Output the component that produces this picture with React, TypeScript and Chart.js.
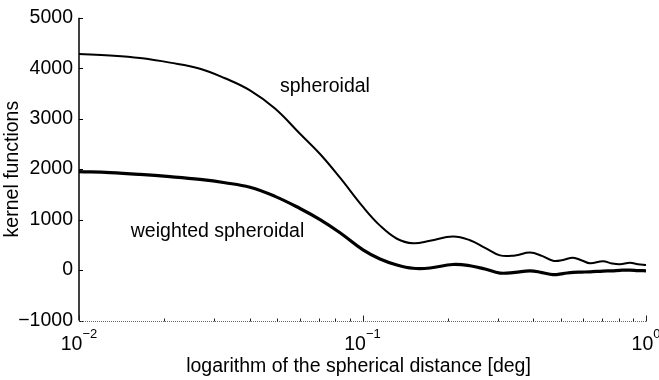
import React, { useEffect, useRef } from "react";
import { Chart, registerables } from "chart.js";

Chart.register(...registerables);

// spherical distance [deg]
const distanceDeg = [
  0.01, 0.01286, 0.01641, 0.02094, 0.02672, 0.03273, 0.0401, 0.04913, 0.06019,
  0.07083, 0.08331, 0.1004, 0.1153, 0.1323, 0.1507, 0.173, 0.2085, 0.2394,
  0.2705, 0.3055, 0.3451, 0.3898, 0.4297, 0.4699, 0.5096, 0.5527, 0.5944,
  0.6345, 0.7054, 0.7587, 0.8097, 0.8781, 0.9371, 1.0,
];
const spheroidal = [
  4280, 4250, 4200, 4110, 3990, 3800, 3560, 3200, 2700,
  2300, 1830, 1250, 880, 620, 530, 580, 665, 590,
  440, 290, 290, 345, 280, 185, 200, 245, 190,
  135, 175, 130, 115, 145, 115, 100,
];
const weightedSpheroidal = [
  1950, 1930, 1895, 1850, 1795, 1730, 1640, 1460, 1220,
  1000, 740, 400, 220, 100, 35, 40, 110, 85,
  20, -60, -45, -15, -50, -90, -70, -45, -40,
  -35, -20, -15, -5, 0, -10, -15,
];
const yTicks = [-1000, 0, 1000, 2000, 3000, 4000, 5000];
const xTickExponents = [-2, -1, 0];
const xAxisTitle = "logarithm of the spherical distance [deg]";
const yAxisTitle = "kernel functions";
const labelSpheroidal = "spheroidal";
const labelWeighted = "weighted spheroidal";
// where the curve labels sit, in data coordinates [deg, value]
const labelSpheroidalAt = [0.0737, 3640];
const labelWeightedAt = [0.0308, 770];

const FONT = "'Liberation Sans', Arial, Helvetica, sans-serif";

export default function App() {
  const ref = useRef<HTMLCanvasElement>(null);

  useEffect(() => {
    document.body.style.margin = "0";
    const canvas = ref.current;
    if (!canvas) return;

    const axesPlugin = {
      id: "matlabAxes",
      afterDraw(chart: any) {
        const { ctx, chartArea: a, scales } = chart;
        const xs = scales.x;
        const ys = scales.y;
        ctx.save();

        // left axis
        ctx.strokeStyle = "#000";
        ctx.lineWidth = 1.5;
        ctx.beginPath();
        ctx.moveTo(a.left, a.top);
        ctx.lineTo(a.left, a.bottom);
        ctx.stroke();

        // y ticks (inward)
        ctx.lineWidth = 1;
        for (const v of yTicks) {
          const py = Math.round(ys.getPixelForValue(v)) + 0.5;
          ctx.beginPath();
          ctx.moveTo(a.left, py);
          ctx.lineTo(a.left + 4, py);
          ctx.stroke();
        }

        // bottom axis (dotted)
        const by = Math.round(a.bottom) + 0.5;
        ctx.strokeStyle = "#666";
        ctx.setLineDash([1, 1]);
        ctx.beginPath();
        ctx.moveTo(a.left, by);
        ctx.lineTo(a.right, by);
        ctx.stroke();
        ctx.setLineDash([]);

        // x ticks (inward), minor and major
        ctx.strokeStyle = "#222";
        for (let e = -2; e <= 0; e++) {
          for (let m = 1; m <= 9; m++) {
            const v = m * Math.pow(10, e);
            if (v > 1.0001) break;
            const px = Math.round(xs.getPixelForValue(v)) + 0.5;
            const len = m === 1 ? 6 : 3;
            ctx.beginPath();
            ctx.moveTo(px, by);
            ctx.lineTo(px, by - len);
            ctx.stroke();
          }
        }

        // x tick labels 10^e
        ctx.fillStyle = "#000";
        ctx.textBaseline = "alphabetic";
        ctx.textAlign = "left";
        for (const e of xTickExponents) {
          const px = xs.getPixelForValue(Math.pow(10, e));
          ctx.font = `19.5px ${FONT}`;
          const wBase = ctx.measureText("10").width;
          const expText = e < 0 ? "\u2212" + Math.abs(e) : String(e);
          ctx.font = `13px ${FONT}`;
          const wExp = ctx.measureText(expText).width;
          const start = px - (wBase + wExp) / 2;
          ctx.font = `19.5px ${FONT}`;
          ctx.fillText("10", start, 350);
          ctx.font = `13px ${FONT}`;
          ctx.fillText(expText, start + wBase, 338);
        }

        // axis titles
        ctx.font = `19.5px ${FONT}`;
        ctx.textAlign = "center";
        ctx.textBaseline = "middle";
        ctx.fillText(xAxisTitle, (a.left + a.right) / 2 - 4, 367);
        ctx.save();
        ctx.translate(13, (a.top + a.bottom) / 2);
        ctx.rotate(-Math.PI / 2);
        ctx.fillText(yAxisTitle, 0, 0);
        ctx.restore();

        // curve labels
        ctx.fillText(
          labelSpheroidal,
          xs.getPixelForValue(labelSpheroidalAt[0]),
          ys.getPixelForValue(labelSpheroidalAt[1])
        );
        ctx.fillText(
          labelWeighted,
          xs.getPixelForValue(labelWeightedAt[0]),
          ys.getPixelForValue(labelWeightedAt[1])
        );

        ctx.restore();
      },
    };

    const chart = new Chart(canvas, {
      type: "line",
      data: {
        datasets: [
          {
            label: labelSpheroidal,
            data: distanceDeg.map((x, i) => ({ x, y: spheroidal[i] })),
            borderColor: "#000",
            borderWidth: 2,
            pointRadius: 0,
            tension: 0.4,
            fill: false,
          },
          {
            label: labelWeighted,
            data: distanceDeg.map((x, i) => ({ x, y: weightedSpheroidal[i] })),
            borderColor: "#000",
            borderWidth: 3.2,
            pointRadius: 0,
            tension: 0.4,
            fill: false,
          },
        ],
      },
      options: {
        responsive: false,
        devicePixelRatio: 1,
        animation: false,
        layout: { padding: { top: 16, right: 13, left: 0, bottom: 0 } },
        plugins: { legend: { display: false }, tooltip: { enabled: false } },
        scales: {
          x: {
            type: "logarithmic",
            min: 0.01,
            max: 1,
            grid: { display: false },
            border: { display: false },
            ticks: { display: false },
            afterFit: (s: any) => {
              s.height = 59.5;
            },
          },
          y: {
            type: "linear",
            min: -1000,
            max: 5000,
            grid: { display: false, drawTicks: false },
            border: { display: false },
            ticks: {
              stepSize: 1000,
              color: "#000",
              padding: 6,
              font: { family: FONT, size: 19.5 },
              callback: (v: any) => String(v).replace("-", "\u2212"),
            },
            afterFit: (s: any) => {
              s.width = 79;
            },
          },
        },
      },
      plugins: [axesPlugin],
    } as any);

    return () => chart.destroy();
  }, []);

  return (
    <div style={{ width: 659, height: 380, background: "#fff" }}>
      <canvas ref={ref} width={659} height={380} style={{ display: "block" }} />
    </div>
  );
}
